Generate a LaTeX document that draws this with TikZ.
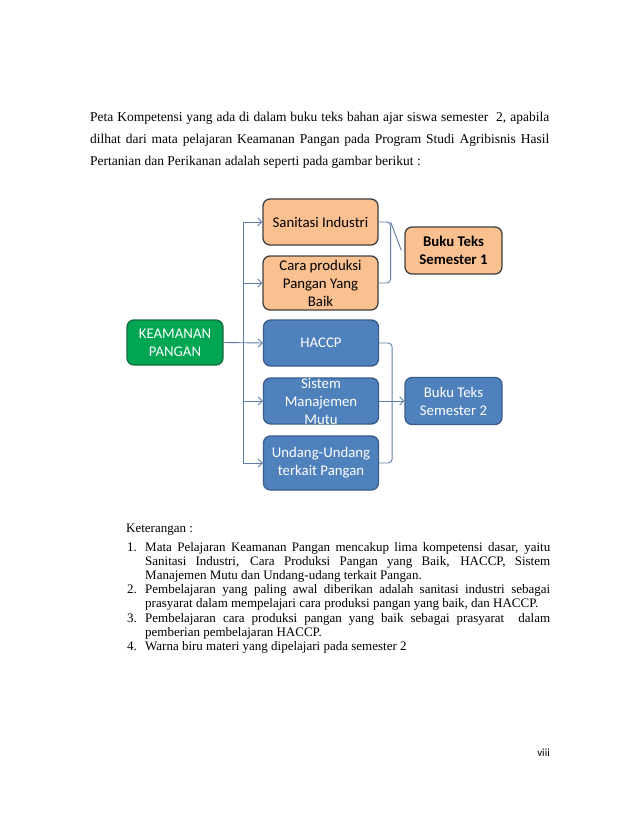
\documentclass[tikz,border=0pt]{standalone}
\usepackage{fontspec}
\setmainfont{Liberation Serif}
\newfontfamily\boxfont{Carlito}
\usetikzlibrary{arrows.meta,calc}
\definecolor{orangefill}{RGB}{250,192,144}
\definecolor{orangeline}{RGB}{64,64,64}
\definecolor{bluefill}{RGB}{79,129,189}
\definecolor{blueline}{RGB}{56,93,138}
\definecolor{greenfill}{RGB}{0,166,81}
\definecolor{greenline}{RGB}{20,110,60}
\definecolor{linkcol}{RGB}{95,125,170}
\tikzset{
  boxtext/.style={inner sep=0pt, align=center, font=\boxfont\fontsize{14.8}{18}\selectfont},
  box/.style={boxtext, rounded corners=7pt, line width=1.3pt, minimum width=115pt, minimum height=46pt},
  orangebox/.style={box, draw=orangeline, fill=orangefill, text=black},
  bluebox/.style={box, draw=blueline, fill=bluefill, text=white},
  greenbox/.style={box, draw=greenline, fill=greenfill, text=white, minimum width=96pt, minimum height=45pt},
  link/.style={draw=linkcol, line width=0.9pt},
  arr/.style={link, -{Straight Barb[length=4pt,width=8pt]}},
  para/.style={anchor=base west, inner sep=0pt, font=\fontsize{13.5}{22}\selectfont},
  note/.style={anchor=base west, inner sep=0pt, font=\fontsize{13}{14}\selectfont},
}

\begin{document}
\begin{tikzpicture}[x=1pt,y=-1pt]
  \useasboundingbox[fill=white] (0,0) rectangle (638,826);

  % paragraph above the chart
  \node[para] (p1) at (90,122) {\makebox[459pt][s]{Peta Kompetensi yang ada di dalam buku teks bahan ajar siswa semester\ \ 2, apabila}};
  \node[para] (p2) at (90,144) {\makebox[459pt][s]{dilhat dari mata pelajaran Keamanan Pangan pada Program Studi Agribisnis Hasil}};
  \node[para] (p3) at (90,166) {Pertanian dan Perikanan adalah seperti pada gambar berikut :};

  % chart
  \node[greenbox] (keamanan) at (175,342.5) {KEAMANAN\\PANGAN};
  \node[orangebox] (sani) at (320.5,222) {Sanitasi Industri};
  \node[orangebox, minimum height=54pt] (cara) at (320.5,283) {Cara produksi\\Pangan Yang\\Baik};
  \node[bluebox] (haccp) at (321,343) {HACCP};
  \node[bluebox, label={[boxtext, text=white]center:Sistem\\Manajemen\\Mutu}] (sistem) at (321,401) {};
  \node[bluebox, minimum height=54pt] (undang) at (321,463) {Undang-Undang\\terkait Pangan};
  \node[orangebox, minimum width=97pt, minimum height=47pt,
        font=\boxfont\bfseries\fontsize{14.8}{18}\selectfont] (buku1) at (453.5,250.5) {Buku Teks\\Semester 1};
  \node[bluebox, minimum width=97pt, minimum height=47pt] (buku2) at (453.5,401) {Buku Teks\\Semester 2};

  \coordinate (split) at ($(keamanan.east)!0.5!(haccp.west)$);
  \draw[link] (split |- sani.west) -- (split |- undang.west);
  \foreach \n in {sani,cara,sistem,undang}
    \draw[arr] (split |- \n.west) -- (\n.west);
  \draw[arr] (keamanan.east) -- (haccp.west);

  \draw[link, rounded corners=4pt] (sani.east) -- ++(12,0) |- (cara.east);
  \draw[link] ($(sani.east)+(12,0)$ |- buku1.west) -- ([xshift=-3pt]buku1.west);
  \draw[link, rounded corners=4pt] (haccp.east) -- ++(13,0) |- (undang.east);
  \draw[arr] (sistem.east) -- (buku2.west);

  % notes
  \node[note] (ket) at (126,532) {Keterangan :};
  \node[note] (n1) at (127,551.5) {1.};
  \node[note] (t1a) at (145,551.5) {\makebox[405pt][s]{Mata Pelajaran Keamanan Pangan mencakup lima kompetensi dasar, yaitu}};
  \node[note] (t1b) at (145,565.6) {\makebox[405pt][s]{Sanitasi Industri, Cara Produksi Pangan yang Baik, HACCP, Sistem}};
  \node[note] (t1c) at (145,579.7) {Manajemen Mutu dan Undang-udang terkait Pangan.};
  \node[note] (n2) at (127,593.8) {2.};
  \node[note] (t2a) at (145,593.8) {\makebox[405pt][s]{Pembelajaran yang paling awal diberikan adalah sanitasi industri sebagai}};
  \node[note] (t2b) at (145,607.9) {prasyarat dalam mempelajari cara produksi pangan yang baik, dan HACCP.};
  \node[note] (n3) at (127,622) {3.};
  \node[note] (t3a) at (145,622) {\makebox[405pt][s]{Pembelajaran cara produksi pangan yang baik sebagai prasyarat\ \ dalam}};
  \node[note] (t3b) at (145,636.1) {pemberian pembelajaran HACCP.};
  \node[note] (n4) at (127,650.2) {4.};
  \node[note] (t4a) at (145,650.2) {Warna biru materi yang dipelajari pada semester 2};

  \node[anchor=base east, inner sep=0pt, font=\boxfont\fontsize{11}{13}\selectfont] (page) at (550,756.5) {viii};
\end{tikzpicture}
\end{document}
